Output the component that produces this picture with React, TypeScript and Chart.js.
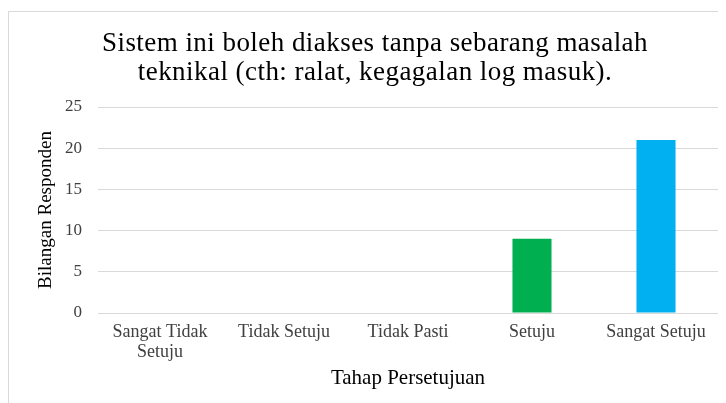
import React, { useEffect, useRef } from "react";
import { Chart, registerables } from "chart.js";

Chart.register(...registerables);

const titleLines = [
  "Sistem ini boleh diakses tanpa sebarang masalah",
  "teknikal (cth: ralat, kegagalan log masuk).",
];
const categories: (string | string[])[] = [
  ["Sangat Tidak", "Setuju"],
  "Tidak Setuju",
  "Tidak Pasti",
  "Setuju",
  "Sangat Setuju",
];
const responses = [0, 0, 0, 9, 21];
const barColors = ["#FF0000", "#FFC000", "#FFFF00", "#00B050", "#00B0F0"];
const yTicksMax = 25;
const yTickStep = 5;
const xAxisTitle = "Tahap Persetujuan";
const yAxisTitle = "Bilangan Responden";

const FONT = "'Liberation Serif', 'Times New Roman', serif";

const titlePlugin = {
  id: "spacedTitle",
  afterDraw(chart: any) {
    const ctx = chart.ctx as CanvasRenderingContext2D;
    ctx.save();
    ctx.font = `27px ${FONT}`;
    (ctx as any).letterSpacing = "0.45px";
    ctx.fillStyle = "#000000";
    ctx.textAlign = "center";
    ctx.textBaseline = "alphabetic";
    const cx = 366;
    const baselines = [39, 68];
    titleLines.forEach((line, i) => {
      ctx.fillText(line, cx, baselines[i]);
    });
    ctx.restore();
  },
};

export default function App() {
  const ref = useRef<HTMLCanvasElement | null>(null);

  useEffect(() => {
    if (!ref.current) return;
    const chart = new Chart(ref.current, {
      type: "bar",
      data: {
        labels: categories,
        datasets: [
          {
            data: responses,
            backgroundColor: barColors,
            borderWidth: 0,
            barPercentage: 0.315,
            categoryPercentage: 1,
          },
        ],
      },
      plugins: [titlePlugin],
      options: {
        responsive: false,
        animation: false,
        devicePixelRatio: 1,
        layout: { padding: { left: 13, right: 8, top: 95, bottom: 0 } },
        plugins: {
          legend: { display: false },
          tooltip: { enabled: false },
          title: { display: false },
        },
        scales: {
          x: {
            grid: { display: false, drawTicks: false },
            border: { display: true, color: "#d9d9d9" },
            ticks: {
              color: "#404040",
              font: { family: FONT, size: 18, lineHeight: 1.11 },
              padding: 9,
              maxRotation: 0,
              autoSkip: false,
            },
            title: {
              display: true,
              text: xAxisTitle,
              color: "#000000",
              font: { family: FONT, size: 21, lineHeight: 1.2 },
              padding: { top: 0, bottom: 12 },
            },
            afterFit: (scale: any) => {
              scale.height = 90;
            },
          },
          y: {
            min: 0,
            max: yTicksMax,
            grid: { color: "#d9d9d9", drawTicks: false, lineWidth: 1 },
            border: { display: false },
            ticks: {
              stepSize: yTickStep,
              color: "#404040",
              font: { family: FONT, size: 17 },
              padding: 16,
            },
            title: {
              display: true,
              text: yAxisTitle,
              color: "#000000",
              font: { family: FONT, size: 19, lineHeight: 1.2 },
              padding: { top: 13, bottom: 0 },
            },
            afterFit: (scale: any) => {
              scale.width = 76;
            },
          },
        },
      },
    });
    return () => chart.destroy();
  }, []);

  return (
    <div
      style={{
        width: 718,
        height: 395,
        overflow: "hidden",
        paddingTop: 3,
        boxSizing: "border-box",
      }}
    >
      <div
        style={{
          width: 760,
          height: 440,
          border: "1px solid #d9d9d9",
          boxSizing: "border-box",
          background: "#ffffff",
        }}
      >
        <canvas ref={ref} width={717} height={391} style={{ display: "block" }} />
      </div>
    </div>
  );
}
